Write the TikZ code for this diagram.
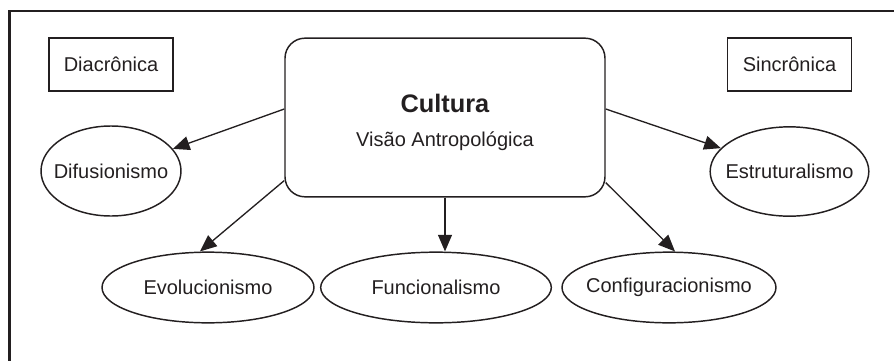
\documentclass[tikz,border=0pt]{standalone}
\usepackage{fontspec}
\setmainfont{Liberation Sans}
\usetikzlibrary{arrows.meta,shapes.geometric,calc}
\definecolor{ink}{RGB}{35,31,32}

\begin{document}
\begin{tikzpicture}[x=0.75pt, y=-0.75pt,
		every node/.style={font=\fontsize{15}{18}\selectfont, text=ink},
		tagbox/.style={draw=ink, line width=1.1pt, minimum width=93pt, minimum height=40pt, inner sep=0pt},
		mainbox/.style={draw=ink, line width=1.1pt, rounded corners=15pt, minimum width=240pt, minimum height=119pt,
			align=center, inner sep=0pt, font=\fontsize{15}{26}\selectfont},
		school/.style={draw=ink, line width=1.1pt, ellipse, inner xsep=-8pt, inner ysep=0pt, minimum height=53pt},
		link/.style={draw=ink, line width=1pt, -{Triangle[length=12.5pt, width=10.5pt]}}]
		\useasboundingbox (0,0) rectangle (894,361);
		
		% Set the frame
		\draw[ink, line width=1.6pt] (9.5,361) -- (9.5,11) -- (894,11);
		
		% Set the two views
		\node[tagbox] (diac) at (111,64.5) {Diacrônica};
		\node[tagbox] (sinc) at (789.5,64.5) {Sincrônica};
		
		% Set the central box
		\node[mainbox] (cultura) at (445,117.5) {\rule{0pt}{21pt}{\fontsize{19}{26}\selectfont\bfseries Cultura}\\Visão Antropológica};
		
		% Set the schools
		\node[school, minimum width=105pt, minimum height=67.5pt] (difus) at (111,171) {Difusionismo};
		\node[school, minimum width=119pt, minimum height=67pt] (estrut) at (789.5,171.5) {Estruturalismo};
		\node[school, minimum width=159pt] (evol) at (208,287.5) {Evolucionismo};
		\node[school, minimum width=173pt] (funcional) at (436,287.5) {Funcionalismo};
		\node[school, minimum width=160.5pt] (config) at (669,287.5) {Configuracionismo};
		
		% Connect the box with the schools
		\draw[link] ($(cultura.west)+(0,-8.5)$) -- (difus);
		\draw[link] ($(cultura.east)+(0,-8.5)$) -- (estrut);
		\draw[link] ($(cultura.south west)+(0,-17)$) -- ($(evol.north)+(-8,0)$);
		\draw[link] (cultura.south) -- (cultura.south |- funcional.north);
		\draw[link] ($(cultura.south east)+(0,-15)$) -- ($(config.north)+(6,0)$);
		
	\end{tikzpicture}
\end{document}
